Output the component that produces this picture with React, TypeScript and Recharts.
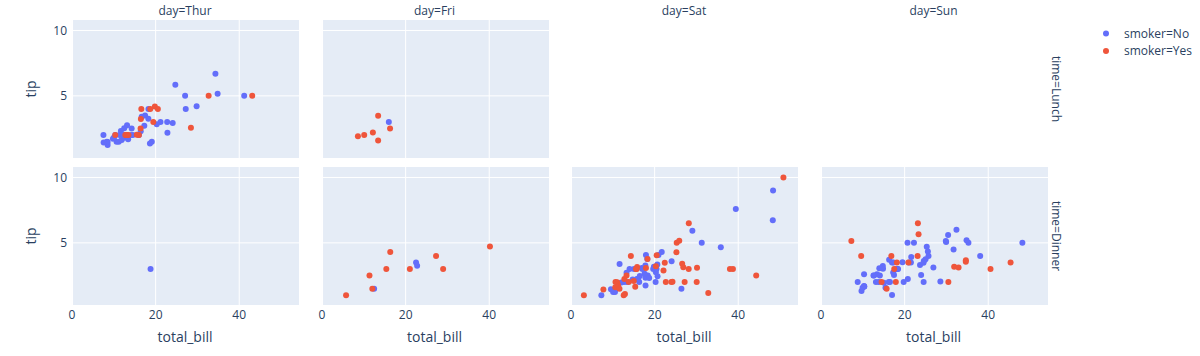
import { ScatterChart, Scatter, XAxis, YAxis, CartesianGrid, ReferenceLine } from 'recharts'

type Pt = [number, number] // [total_bill, tip]

const days = ['Thur', 'Fri', 'Sat', 'Sun']
const times = ['Lunch', 'Dinner']
const xTicks = [0, 20, 40]
const yTicks = [5, 10]

const thurLunchNo: Pt[] = [
  [27.2, 4.0], [22.76, 3.0], [17.29, 2.71], [16.66, 3.4], [10.07, 1.83], [15.98, 2.03],
  [34.83, 5.17], [13.03, 2.0], [18.28, 4.0], [24.71, 5.85], [21.16, 3.0], [10.65, 1.5],
  [12.43, 1.8], [24.08, 2.92], [11.69, 2.31], [13.42, 1.68], [14.26, 2.5], [15.95, 2.0],
  [12.48, 2.52], [29.8, 4.2], [8.52, 1.48], [14.52, 2.0], [11.38, 2.0], [22.82, 2.18],
  [19.08, 1.5], [20.27, 2.83], [11.17, 1.5], [12.26, 2.0], [18.26, 3.25], [8.51, 1.25],
  [10.33, 2.0], [14.15, 2.0], [13.16, 2.75], [17.47, 3.5], [34.3, 6.7], [41.19, 5.0],
  [27.05, 5.0], [16.43, 2.3], [8.35, 1.5], [18.64, 1.36], [11.87, 1.63], [9.78, 1.73],
  [7.51, 2.0], [7.56, 1.44],
]
const thurLunchYes: Pt[] = [
  [19.44, 3.0], [32.68, 5.0], [16.0, 2.0], [19.81, 4.19], [28.44, 2.56], [15.48, 2.02],
  [16.58, 4.0], [10.34, 2.0], [43.11, 5.0], [13.0, 2.0], [13.51, 2.0], [18.71, 4.0],
  [12.74, 2.01], [13.0, 2.0], [16.4, 2.5], [20.53, 4.0], [16.47, 3.23],
]
const thurDinnerNo: Pt[] = [[18.78, 3.0]]

const friLunchNo: Pt[] = [[15.98, 3.0]]
const friLunchYes: Pt[] = [
  [12.16, 2.2], [13.42, 3.48], [8.58, 1.92], [13.42, 1.58], [16.27, 2.5], [10.09, 2.0],
]
const friDinnerNo: Pt[] = [[22.49, 3.5], [22.75, 3.25], [12.46, 1.5]]
const friDinnerYes: Pt[] = [
  [28.97, 3.0], [5.75, 1.0], [16.32, 4.3], [40.17, 4.73], [27.28, 4.0], [12.03, 1.5],
  [21.01, 3.0], [11.35, 2.5], [15.38, 3.0],
]

const satDinnerNo: Pt[] = [
  [20.65, 3.35], [17.92, 4.08], [20.29, 2.75], [15.77, 2.23], [39.42, 7.58], [19.82, 3.18],
  [17.81, 2.34], [13.37, 2.0], [12.69, 2.0], [21.7, 4.3], [19.65, 3.0], [9.55, 1.45],
  [18.35, 2.5], [15.06, 3.0], [20.69, 2.45], [17.78, 3.27], [24.06, 3.6], [16.31, 2.0],
  [16.93, 3.07], [18.69, 2.31], [31.27, 5.0], [16.04, 2.24], [26.41, 1.5], [48.27, 6.73],
  [17.59, 2.64], [20.08, 3.15], [16.45, 2.47], [20.23, 2.01], [12.02, 1.97], [17.07, 3.0],
  [14.73, 2.2], [10.51, 1.25], [20.92, 4.08], [18.24, 3.76], [14.0, 3.0], [7.25, 1.0],
  [48.33, 9.0], [20.45, 3.0], [13.28, 2.72], [11.61, 3.39], [10.77, 1.47], [10.07, 1.25],
  [35.83, 4.67], [29.03, 5.92], [17.82, 1.75],
]
const satDinnerYes: Pt[] = [
  [38.01, 3.0], [11.24, 1.76], [20.29, 3.21], [13.81, 2.0], [11.02, 1.98], [18.29, 3.76],
  [3.07, 1.0], [15.01, 2.09], [26.86, 3.14], [25.28, 5.0], [17.92, 3.08], [44.3, 2.5],
  [22.42, 3.48], [15.36, 1.64], [20.49, 4.06], [25.21, 4.29], [14.31, 4.0], [10.59, 1.61],
  [10.63, 2.0], [50.81, 10.0], [15.81, 3.16], [26.59, 3.41], [38.73, 3.0], [24.27, 2.03],
  [12.76, 2.23], [30.06, 2.0], [25.89, 5.16], [13.27, 2.5], [28.17, 6.5], [12.9, 1.1],
  [28.15, 3.0], [11.59, 1.5], [7.74, 1.44], [30.14, 3.09], [22.12, 2.88], [24.01, 2.0],
  [15.69, 3.0], [15.53, 3.0], [12.6, 1.0], [32.83, 1.17], [27.18, 2.0], [22.67, 2.0],
]

const sunDinnerNo: Pt[] = [
  [16.99, 1.01], [10.34, 1.66], [21.01, 3.5], [23.68, 3.31], [24.59, 3.61], [25.29, 4.71],
  [8.77, 2.0], [26.88, 3.12], [15.04, 1.96], [14.78, 3.23], [10.27, 1.71], [35.26, 5.0],
  [15.42, 1.57], [18.43, 3.0], [14.83, 3.02], [21.58, 3.92], [10.33, 1.67], [16.29, 3.71],
  [16.97, 3.5], [17.46, 2.54], [13.94, 3.06], [9.68, 1.32], [30.4, 5.6], [18.29, 3.0],
  [22.23, 5.0], [32.4, 6.0], [28.55, 2.05], [18.04, 3.0], [12.54, 2.5], [10.29, 2.6],
  [34.81, 5.2], [9.94, 1.56], [25.56, 4.34], [19.49, 3.51], [38.07, 4.0], [23.95, 2.55],
  [25.71, 4.0], [17.31, 3.5], [29.93, 5.07], [14.07, 2.5], [13.13, 2.0], [17.26, 2.74],
  [24.55, 2.0], [19.77, 2.0], [29.85, 5.14], [48.17, 5.0], [25.0, 3.75], [13.39, 2.61],
  [16.49, 2.0], [21.5, 3.5], [12.66, 2.5], [16.21, 2.0], [13.81, 2.0], [24.52, 3.48],
  [20.76, 2.24], [31.71, 4.5], [20.69, 5.0],
]
const sunDinnerYes: Pt[] = [
  [17.51, 3.0], [7.25, 5.15], [31.85, 3.18], [16.82, 4.0], [32.9, 3.11], [17.89, 2.0],
  [14.48, 2.0], [9.6, 4.0], [34.63, 3.55], [34.65, 3.68], [23.33, 5.65], [45.35, 3.5],
  [23.17, 6.5], [40.55, 3.0], [20.9, 3.5], [30.46, 2.0], [18.15, 3.5], [23.1, 4.0],
  [15.69, 1.5],
]

// layout (plotly-like facet grid)
const COL_LEFT = [71, 320.5, 570, 819.5]
const ROW_TOP = [20, 167]
const PLOT_W = 228
const PLOT_H = 138
const Y_AXIS_W = 40
const X_AXIS_H = 30
const X_DOMAIN: [number, number] = [-0.25, 54.3]
const Y_DOMAIN: [number, number] = [0.25, 10.8]

const BLUE = '#636efa'
const RED = '#ef553b'
const TEXT = '#2a3f5f'
const FONT = '"Open Sans", verdana, arial, sans-serif'

const toPoints = (rows: Pt[]) => rows.map(([total_bill, tip]) => ({ total_bill, tip }))

const panels = [
  { col: 0, row: 0, no: thurLunchNo, yes: thurLunchYes },
  { col: 1, row: 0, no: friLunchNo, yes: friLunchYes },
  { col: 0, row: 1, no: thurDinnerNo, yes: [] as Pt[] },
  { col: 1, row: 1, no: friDinnerNo, yes: friDinnerYes },
  { col: 2, row: 1, no: satDinnerNo, yes: satDinnerYes },
  { col: 3, row: 1, no: sunDinnerNo, yes: sunDinnerYes },
]

const dot = (color: string) => (p: any) => <circle cx={p.cx} cy={p.cy} r={3} fill={color} />

const tickStyle = { fill: TEXT, fontSize: 12, fontFamily: FONT }

function Panel({ col, row, no, yes }: { col: number; row: number; no: Pt[]; yes: Pt[] }) {
  return (
    <div style={{ position: 'absolute', left: COL_LEFT[col] - Y_AXIS_W, top: ROW_TOP[row] }}>
      <ScatterChart
        width={Y_AXIS_W + PLOT_W}
        height={PLOT_H + X_AXIS_H}
        margin={{ top: 0, right: 0, bottom: 0, left: 0 }}
      >
        <CartesianGrid fill="#e5ecf6" horizontal={false} vertical={false} />
        <XAxis
          type="number"
          dataKey="total_bill"
          domain={X_DOMAIN}
          ticks={xTicks}
          allowDataOverflow
          height={X_AXIS_H}
          axisLine={false}
          tickLine={false}
          tickSize={0}
          tickMargin={5}
          tick={row === 1 ? tickStyle : false}
        />
        <YAxis
          type="number"
          dataKey="tip"
          domain={Y_DOMAIN}
          ticks={yTicks}
          allowDataOverflow
          width={Y_AXIS_W}
          axisLine={false}
          tickLine={false}
          tickSize={0}
          tickMargin={4}
          tick={col === 0 ? tickStyle : false}
        />
        {xTicks.map((v) => (
          <ReferenceLine key={`gx${v}`} x={v} stroke="#fff" strokeWidth={v === 0 ? 2 : 1} />
        ))}
        {yTicks.map((v) => (
          <ReferenceLine key={`gy${v}`} y={v} stroke="#fff" strokeWidth={1} />
        ))}
        <Scatter data={toPoints(no)} fill={BLUE} shape={dot(BLUE)} isAnimationActive={false} />
        <Scatter data={toPoints(yes)} fill={RED} shape={dot(RED)} isAnimationActive={false} />
      </ScatterChart>
    </div>
  )
}

export default function App() {
  return (
    <div style={{ position: 'absolute', left: 0, top: 0, width: 1200, height: 356, background: '#fff', fontFamily: FONT }}>
      {panels.map((p) => (
        <Panel key={`${p.col}-${p.row}`} {...p} />
      ))}
      <svg width={1200} height={356} style={{ position: 'absolute', left: 0, top: 0, pointerEvents: 'none' }}>
        <g fill={TEXT} fontFamily={FONT}>
          {days.map((d, i) => (
            <text key={d} x={COL_LEFT[i] + PLOT_W / 2} y={15} fontSize={12} textAnchor="middle">
              day={d}
            </text>
          ))}
          {times.map((t, i) => (
            <text
              key={t}
              transform={`translate(1052, ${ROW_TOP[i] + PLOT_H / 2}) rotate(90)`}
              fontSize={12}
              textAnchor="middle"
            >
              time={t}
            </text>
          ))}
          {times.map((t, i) => (
            <text
              key={`tip-${t}`}
              transform={`translate(36, ${ROW_TOP[i] + PLOT_H / 2}) rotate(-90)`}
              fontSize={14}
              textAnchor="middle"
            >
              tip
            </text>
          ))}
          {days.map((d, i) => (
            <text key={`xt-${d}`} x={COL_LEFT[i] + PLOT_W / 2} y={342} fontSize={14} textAnchor="middle">
              total_bill
            </text>
          ))}
          <circle cx={1106} cy={33.5} r={3} fill={BLUE} />
          <text x={1124} y={37.8} fontSize={12}>smoker=No</text>
          <circle cx={1106} cy={51} r={3} fill={RED} />
          <text x={1124} y={55.3} fontSize={12}>smoker=Yes</text>
        </g>
      </svg>
    </div>
  )
}
